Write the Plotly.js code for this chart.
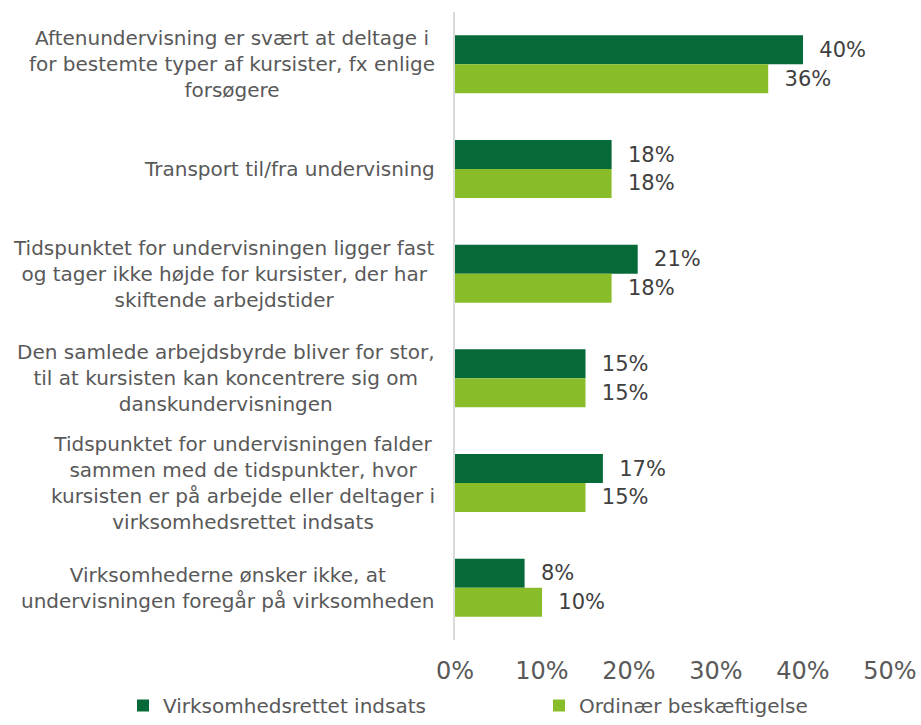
<!DOCTYPE html>
<html>
<head>
<meta charset="utf-8">
<script src="https://cdn.plot.ly/plotly-3.0.1.min.js"></script>
<style>html,body{margin:0;padding:0;background:#fff;}#chart{width:921px;height:725px;}</style>
</head>
<body>
<div id="chart"></div>
<script>
const categories = [
  "Aftenundervisning er svært at deltage i<br>for bestemte typer af kursister, fx enlige<br>forsøgere",
  "Transport til/fra undervisning",
  "Tidspunktet for undervisningen ligger fast<br>og tager ikke højde for kursister, der har<br>skiftende arbejdstider",
  "Den samlede arbejdsbyrde bliver for stor,<br>til at kursisten kan koncentrere sig om<br>danskundervisningen",
  "Tidspunktet for undervisningen falder<br>sammen med de tidspunkter, hvor<br>kursisten er på arbejde eller deltager i<br>virksomhedsrettet indsats",
  "Virksomhederne ønsker ikke, at<br>undervisningen foregår på virksomheden"
];
const seriesNames = ["Virksomhedsrettet indsats", "Ordinær beskæftigelse"];
const virksomhedsrettet = [40, 18, 21, 15, 17, 8];
const ordinaer = [36, 18, 18, 15, 15, 10];
const tickVals = [0, 10, 20, 30, 40, 50];
const tickText = ["0%", "10%", "20%", "30%", "40%", "50%"];

const font = "DejaVu Sans, Verdana, sans-serif";
const textColor = "#595959";

function mk(name, vals, color, legendId) {
  return {
    type: "bar", orientation: "h", name: name,
    x: vals, y: categories.map((c, i) => i),
    marker: {color: color},
    text: vals.map(v => "  " + v + "%"),
    textposition: "outside",
    textfont: {family: font, size: 21, color: "#404040"},
    cliponaxis: false,
    hoverinfo: "skip",
    legend: legendId
  };
}

const data = [
  mk(seriesNames[0], virksomhedsrettet, "#066a38", "legend"),
  mk(seriesNames[1], ordinaer, "#88bc29", "legend2")
];

const annotations = categories.map((c, i) => ({
  xref: "paper", yref: "y", x: 0, y: i, xanchor: "right", yanchor: "middle",
  xshift: -18, text: c, align: "center", showarrow: false,
  font: {family: font, size: 20, color: textColor}
}));

function leg(x) {
  return {
    orientation: "h", xref: "container", yref: "container",
    x: x, y: 0.0, xanchor: "left", yanchor: "bottom",
    font: {family: font, size: 20, color: textColor},
    itemwidth: 30, bgcolor: "rgba(0,0,0,0)"
  };
}

const layout = {
  width: 921, height: 725,
  margin: {l: 455, r: 31, t: 12, b: 85},
  paper_bgcolor: "#fff", plot_bgcolor: "#fff",
  barmode: "group", bargap: 0.446, bargroupgap: 0,
  font: {family: font, color: textColor},
  xaxis: {
    range: [0, 50], tickvals: tickVals, ticktext: tickText,
    showgrid: false, zeroline: false, showline: false, ticks: "",
    tickfont: {family: font, size: 24, color: textColor},
    ticklabelstandoff: 14
  },
  yaxis: {
    range: [5.5, -0.5], showticklabels: false, showgrid: false, zeroline: false,
    showline: true, linecolor: "#d9d9d9", linewidth: 2, ticks: ""
  },
  showlegend: true,
  legend: leg((163 - 40) / 921),
  legend2: leg((579 - 40) / 921),
  annotations: annotations
};

Plotly.newPlot("chart", data, layout, {displayModeBar: false, staticPlot: true});
</script>
</body>
</html>
